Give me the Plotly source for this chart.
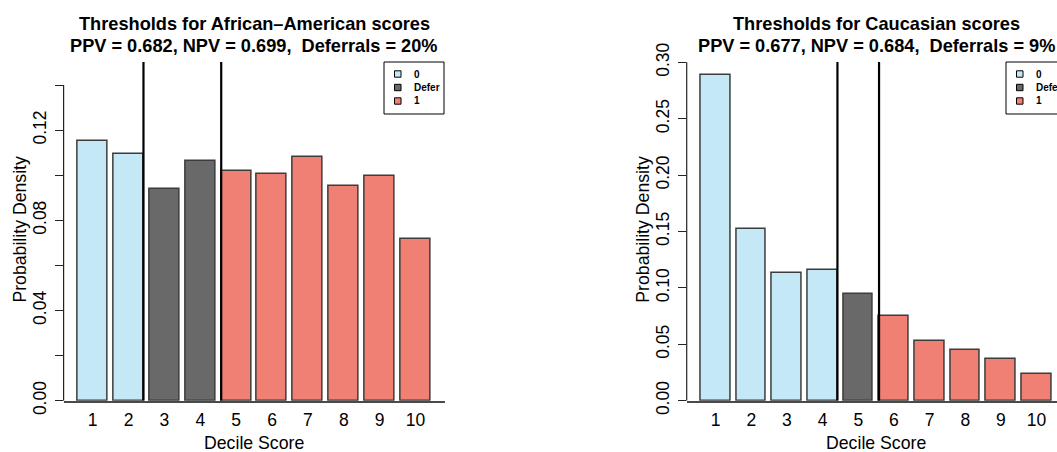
import plotly.graph_objects as go

W, H = 1057, 452

# ---------------- data ----------------
deciles = [1, 2, 3, 4, 5, 6, 7, 8, 9, 10]
tick_labels = ["1", "2", "3", "4", "5", "6", "7", "8", "9", "10"]

aa_density = [0.1153, 0.1093, 0.0939, 0.1064, 0.1017, 0.1005, 0.1081, 0.0952, 0.0998, 0.0717]
aa_class = ["0", "0", "Defer", "Defer", "1", "1", "1", "1", "1", "1"]

ca_density = [0.2887, 0.1522, 0.1135, 0.1159, 0.0949, 0.0754, 0.0532, 0.0449, 0.0367, 0.0234]
ca_class = ["0", "0", "0", "0", "Defer", "1", "1", "1", "1", "1"]

aa_title = "Thresholds for African\u2013American scores"
aa_sub = "PPV = 0.682, NPV = 0.699, \u00a0Deferrals = 20%"
ca_title = "Thresholds for Caucasian scores"
ca_sub = "PPV = 0.677, NPV = 0.684, \u00a0Deferrals = 9%"

legend_labels = ["0", "Defer", "1"]

aa_yticks = [0.00, 0.02, 0.04, 0.06, 0.08, 0.10, 0.12, 0.14]
aa_yticktext = ["0.00", "", "0.04", "", "0.08", "", "0.12", ""]
ca_yticks = [0.00, 0.05, 0.10, 0.15, 0.20, 0.25, 0.30]
ca_yticktext = ["0.00", "0.05", "0.10", "0.15", "0.20", "0.25", "0.30"]

# ---------------- style ----------------
colors = {"0": "#C5E8F7", "Defer": "#686968", "1": "#F07F74"}
FONT = "Liberation Sans, Arial, Helvetica, sans-serif"
BAR_W = 1 / 1.2


def px_x(p):
    return p / W


def px_y(p):
    return 1 - p / H


# panel geometry (pixels)
y_top_px, y_base_px = 62.0, 400.7
panels = [
    dict(xa="x", ya="y", xl=63.6, xr=444.6, xfull=444.6, xmax=10.81, ytop=0.1502,
         vals=aa_density, cls=aa_class, title=aa_title, sub=aa_sub,
         yticks=aa_yticks, ytt=aa_yticktext, yline_top=0.14, leg_x=384.0),
    dict(xa="x2", ya="y2", xl=686.7, xr=1057.0, xfull=1065.5, xmax=10.573, ytop=0.3003,
         vals=ca_density, cls=ca_class, title=ca_title, sub=ca_sub,
         yticks=ca_yticks, ytt=ca_yticktext, yline_top=0.30, leg_x=1006.0),
]

fig = go.Figure()
shapes, annotations = [], []

for i, p in enumerate(panels):
    fig.add_trace(go.Bar(
        x=deciles, y=p["vals"], width=BAR_W, xaxis=p["xa"], yaxis=p["ya"],
        marker=dict(color=[colors[c] for c in p["cls"]],
                    line=dict(color="#3c3c3c", width=1.5)),
        showlegend=False, hoverinfo="skip"))

    # threshold lines: right edge of last "0" bar and left edge of first "1" bar
    last0 = max(d for d, c in zip(deciles, p["cls"]) if c == "0")
    first1 = min(d for d, c in zip(deciles, p["cls"]) if c == "1")
    for xv in (last0 + BAR_W / 2, first1 - BAR_W / 2):
        shapes.append(dict(type="line", xref=p["xa"], yref=p["ya"],
                           x0=xv, x1=xv, y0=0, y1=p["ytop"],
                           line=dict(color="black", width=2.2)))
    # y axis line (0 .. last tick), R style
    shapes.append(dict(type="line", xref=p["xa"] + " domain", yref=p["ya"],
                       x0=0, x1=0, y0=0, y1=p["yline_top"],
                       line=dict(color="#222", width=1.2)))

    center_px = (p["xl"] + p["xfull"]) / 2
    annotations.append(dict(text="<b>%s</b>" % p["title"], x=px_x(center_px), y=px_y(24),
                            xref="paper", yref="paper", showarrow=False,
                            font=dict(size=18.2, color="black", family=FONT),
                            xanchor="center", yanchor="middle"))
    annotations.append(dict(text="<b>%s</b>" % p["sub"], x=px_x(center_px), y=px_y(46.5),
                            xref="paper", yref="paper", showarrow=False,
                            font=dict(size=18.2, color="black", family=FONT),
                            xanchor="center", yanchor="middle"))
    annotations.append(dict(text="Decile Score", x=px_x(center_px), y=px_y(443),
                            xref="paper", yref="paper", showarrow=False,
                            font=dict(size=17.7, color="black", family=FONT),
                            xanchor="center", yanchor="middle"))
    annotations.append(dict(text="Probability Density", x=px_x(p["xl"] - 44), y=px_y(229),
                            xref="paper", yref="paper", showarrow=False, textangle=-90,
                            font=dict(size=17.7, color="black", family=FONT),
                            xanchor="center", yanchor="middle"))

    # manual legend box
    lx = p["leg_x"]
    shapes.append(dict(type="rect", xref="paper", yref="paper",
                       x0=px_x(lx), x1=px_x(lx + 60), y0=px_y(62), y1=px_y(114),
                       line=dict(color="black", width=1), fillcolor="white"))
    for k, lab in enumerate(legend_labels):
        cy = 74 + 13.5 * k
        shapes.append(dict(type="rect", xref="paper", yref="paper",
                           x0=px_x(lx + 10.5), x1=px_x(lx + 17), y0=px_y(cy - 3.2), y1=px_y(cy + 3.2),
                           line=dict(color="black", width=1), fillcolor=colors[lab]))
        annotations.append(dict(text="<b>%s</b>" % lab, x=px_x(lx + 27.5), y=px_y(cy), xref="paper",
                                yref="paper", showarrow=False, xanchor="left", yanchor="middle",
                                font=dict(size=10, color="black", family=FONT)))

y_dom = [px_y(y_base_px), px_y(y_top_px)]

layout_axes = {}
for i, p in enumerate(panels):
    sx = "" if i == 0 else "2"
    layout_axes["xaxis" + sx] = dict(
        domain=[px_x(p["xl"]), px_x(p["xr"])], range=[0.19, p["xmax"]],
        anchor=p["ya"], tickmode="array", tickvals=deciles, ticktext=tick_labels,
        ticks="", showline=True, linecolor="#4a4a4a", linewidth=1.5,
        showgrid=False, zeroline=False, automargin=False, ticklabelstandoff=3,
        tickfont=dict(size=17.5, color="black", family=FONT))
    layout_axes["yaxis" + sx] = dict(
        domain=y_dom, range=[0, p["ytop"]], anchor=p["xa"],
        tickmode="array", tickvals=p["yticks"], ticktext=p["ytt"],
        ticks="outside", ticklen=7.5, tickwidth=1.2, tickcolor="#222",
        showline=False, showgrid=False, zeroline=False, automargin=False,
        tickangle=-90, ticklabelstandoff=2,
        tickfont=dict(size=17.5, color="black", family=FONT))

fig.update_layout(
    width=W, height=H, margin=dict(l=0, r=0, t=0, b=0),
    paper_bgcolor="white", plot_bgcolor="white",
    bargap=0, shapes=shapes, annotations=annotations, showlegend=False,
    **layout_axes)

fig.write_html("out.html")
